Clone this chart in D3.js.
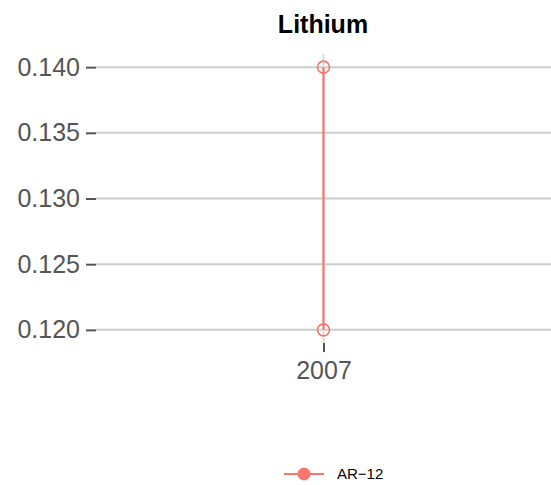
<!DOCTYPE html>
<html>
<head>
<meta charset="utf-8">
<script src="https://cdn.jsdelivr.net/npm/d3@7"></script>
<style>
body { margin: 0; background: #fff; }
svg { font-family: "Liberation Sans", Arial, sans-serif; }
</style>
</head>
<body>
<svg id="chart" width="551" height="485"></svg>
<script>
var years = [2007, 2007]
var values = [0.12, 0.14]
var seriesName = "AR\u221212"
var yTicks = [0.120, 0.125, 0.130, 0.135, 0.140]
var xTicks = [2007]
var colour = "#F8766D"

var svg = d3.select("#chart")
const panel = {left: 96, right: 551, top: 54, bottom: 343}

var x = d3.scaleLinear()
    .domain([2006.95, 2007.05])
    .range([panel.left, panel.right]);

var y = d3.scaleLinear()
    .domain([0.119, 0.141])
    .range([panel.bottom, panel.top]);

// grid
svg.append("g").selectAll("line.hgrid")
    .data(yTicks).enter()
    .append("line")
    .attr("x1", panel.left).attr("x2", panel.right)
    .attr("y1", d => y(d)).attr("y2", d => y(d))
    .attr("stroke", "#cccccc").attr("stroke-width", 2);

svg.append("g").selectAll("line.vgrid")
    .data(xTicks).enter()
    .append("line")
    .attr("x1", d => x(d)).attr("x2", d => x(d))
    .attr("y1", panel.top).attr("y2", panel.bottom)
    .attr("stroke", "#dddddd").attr("stroke-width", 2);

// axes
var yAxis = svg.append("g")
    .attr("transform", "translate(" + panel.left + ",0)")
    .call(d3.axisLeft(y).tickValues(yTicks).tickFormat(d3.format(".3f")).tickSize(10).tickPadding(6));
var xAxis = svg.append("g")
    .attr("transform", "translate(0," + panel.bottom + ")")
    .call(d3.axisBottom(x).tickValues(xTicks).tickFormat(d3.format("d")).tickSize(9).tickPadding(9));

[yAxis, xAxis].forEach(function(a) {
    a.select(".domain").remove();
    a.selectAll(".tick line").attr("stroke", "#555555").attr("stroke-width", 2);
    a.selectAll(".tick text").attr("fill", "#555555").attr("font-size", 25)
        .attr("font-family", "Liberation Sans, Arial, sans-serif");
});

// data
var pts = years.map((d, i) => ({x: d, y: values[i]}))
svg.append("path")
    .datum(pts)
    .attr("fill", "none")
    .attr("stroke", colour)
    .attr("stroke-width", 2.2)
    .attr("d", d3.line().x(d => x(d.x)).y(d => y(d.y)));

svg.selectAll("circle.pt")
    .data(pts).enter()
    .append("circle")
    .attr("cx", d => x(d.x)).attr("cy", d => y(d.y))
    .attr("r", 6)
    .attr("fill", "none")
    .attr("stroke", colour)
    .attr("stroke-width", 1.6);

// title
svg.append("text")
    .attr("x", 323)
    .attr("y", 33)
    .attr("text-anchor", "middle")
    .attr("font-weight", "bold")
    .attr("font-size", 25)
    .text("Lithium");

// legend
var legend = svg.append("g").attr("transform", "translate(284,474)");
legend.append("line")
    .attr("x1", 0).attr("x2", 40)
    .attr("stroke", colour).attr("stroke-width", 2.2);
legend.append("circle")
    .attr("cx", 20).attr("r", 6.5)
    .attr("fill", colour);
legend.append("text")
    .attr("x", 53).attr("y", 5)
    .attr("font-size", 15)
    .text(seriesName);
</script>
</body>
</html>
